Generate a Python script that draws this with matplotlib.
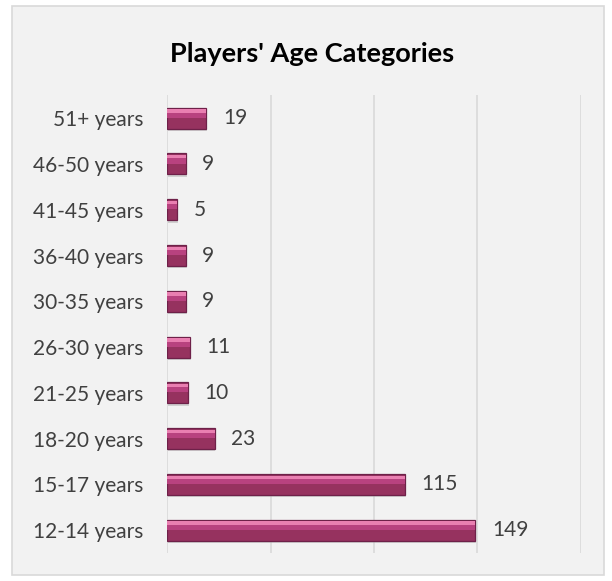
import matplotlib.pyplot as plt
from matplotlib.patches import Rectangle

# age categories (bottom to top) and player counts
categories = ['12-14 years', '15-17 years', '18-20 years', '21-25 years', '26-30 years',
              '30-35 years', '36-40 years', '41-45 years', '46-50 years', '51+ years']
players = [149, 115, 23, 10, 11, 9, 9, 5, 9, 19]

plt.rcParams['font.family'] = ['Lato', 'DejaVu Sans']

fig = plt.figure(figsize=(6.12, 5.81), dpi=100)
fig.patch.set_facecolor('white')

# chart frame (behind everything)
fig.patches.append(Rectangle((12 / 612, 6 / 581), 592 / 612, 569 / 581,
                             transform=fig.transFigure, facecolor='#f2f2f2',
                             edgecolor='#d9d9d9', linewidth=1.2, zorder=-10))

ax = fig.add_axes([0.273, 0.048, 0.676, 0.788])
ax.set_facecolor('none')

y = list(range(len(categories)))
h = 0.46

# soft shadow under each bar
ax.barh([v - 0.05 for v in y], players, height=h, left=0.4, color='#b0b0b0',
        alpha=0.5, linewidth=0, zorder=2)
# main bar with darker edge
ax.barh(y, players, height=h, color='#96325f', edgecolor='#6e2149', linewidth=0.9, zorder=3)
# upper half, a bit lighter
ax.barh([v + h * 0.22 for v in y], players, height=h * 0.4, color='#b8427f',
        linewidth=0, zorder=4)
# light top highlight
ax.barh([v + h * 0.34 for v in y], players, height=h * 0.16, color='#e97fb1',
        linewidth=0, zorder=5)

for yi, v in zip(y, players):
    ax.text(v + 8, yi, str(v), va='center', ha='left', fontsize=15, color='#404040')

ax.set_xlim(0, 200)
ax.set_ylim(-0.5, len(categories) - 0.5)
ax.set_xticks([0, 50, 100, 150, 200])
ax.set_xticklabels([])
ax.set_yticks(y)
ax.set_yticklabels(categories, fontsize=15, color='#404040')
ax.tick_params(axis='both', length=0)
ax.tick_params(axis='y', pad=17)
ax.grid(axis='x', color='#d9d9d9', linewidth=1.2, zorder=0)
for s in ax.spines.values():
    s.set_visible(False)

fig.text(0.51, 0.893, "Players' Age Categories", ha='center', va='baseline',
         fontsize=19.5, fontweight='bold', color='black')

fig.savefig('out.png', dpi=100)
